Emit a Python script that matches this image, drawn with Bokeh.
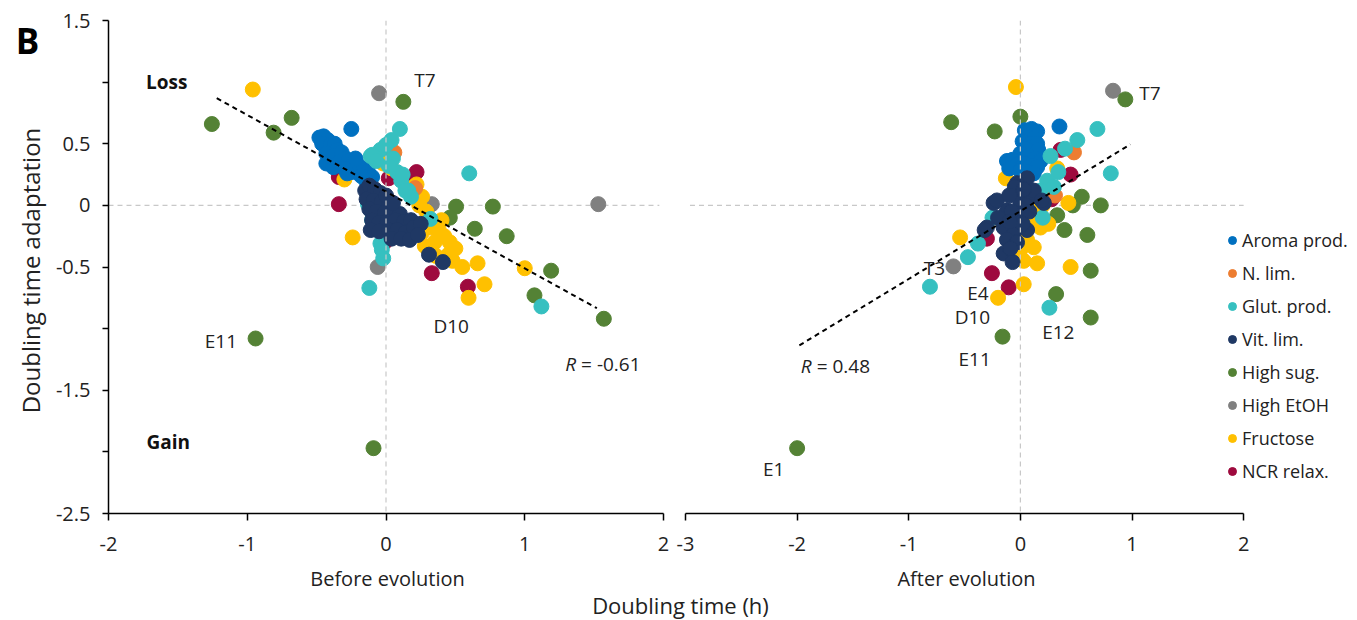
import math
from bokeh.plotting import figure
from bokeh.models import (ColumnDataSource, Span, Label, Legend, LegendItem,
                          FixedTicker, Range1d)
from bokeh.layouts import row, column
from bokeh.embed import file_html
from bokeh.resources import INLINE
from bokeh.core.properties import value

FONT = "Open Sans"

categories = ["Aroma prod.", "N. lim.", "Glut. prod.", "Vit. lim.",
              "High sug.", "High EtOH", "Fructose", "NCR relax."]
colors = ["#0070C0", "#ED7D31", "#36C0C0", "#1F3864",
          "#548235", "#808080", "#FFC000", "#9E0A3E"]
draw_order = ["NCR relax.", "High EtOH", "High sug.", "Fructose",
              "N. lim.", "Aroma prod.", "Glut. prod.", "Vit. lim."]

# ---------- Before evolution (x = doubling time before, y = adaptation) ----------
aroma_before = [(-0.25, 0.62), (-0.48, 0.55), (-0.45, 0.56), (-0.42, 0.53), (-0.46, 0.50),
                (-0.40, 0.49), (-0.37, 0.50), (-0.43, 0.42), (-0.35, 0.45), (-0.38, 0.40),
                (-0.32, 0.43), (-0.29, 0.38), (-0.34, 0.35), (-0.27, 0.36), (-0.24, 0.33),
                (-0.30, 0.30), (-0.21, 0.34), (-0.19, 0.29), (-0.25, 0.27), (-0.16, 0.30),
                (-0.13, 0.27), (-0.18, 0.24), (-0.10, 0.23), (-0.28, 0.26), (-0.22, 0.38),
                (-0.15, 0.21), (-0.43, 0.34), (-0.38, 0.31)]
nlim_before = [(0.06, 0.43), (0.21, 0.14)]
glut_before = [(0.10, 0.62), (0.60, 0.26), (-0.11, 0.40), (-0.04, 0.45), (0.04, 0.53),
               (0.00, 0.49), (-0.10, 0.41), (0.08, 0.27), (0.11, 0.20), (0.16, 0.12),
               (0.18, 0.07), (-0.13, 0.01), (-0.11, -0.04), (-0.10, -0.12), (-0.04, -0.31),
               (-0.02, -0.43), (-0.12, -0.67), (0.32, -0.11), (0.14, 0.12), (1.12, -0.82),
               (0.05, 0.38), (0.12, 0.25), (0.02, 0.32), (-0.07, 0.36), (-0.03, -0.36)]
vit_before = [(-0.15, 0.12), (-0.12, 0.16), (-0.08, 0.13), (-0.04, 0.10), (-0.14, 0.05),
              (-0.09, 0.04), (-0.03, 0.03), (0.02, 0.02), (-0.12, -0.03), (-0.07, -0.05),
              (-0.01, -0.06), (0.05, -0.05), (0.10, -0.07), (-0.10, -0.12), (-0.05, -0.14),
              (0.01, -0.13), (0.07, -0.12), (0.13, -0.13), (0.18, -0.12), (-0.11, -0.20),
              (-0.05, -0.21), (0.02, -0.20), (0.08, -0.20), (0.14, -0.22), (0.20, -0.18),
              (0.25, -0.15), (0.04, -0.27), (0.11, -0.27), (0.17, -0.28), (0.23, -0.24),
              (0.31, -0.40), (0.41, -0.46), (0.00, 0.08), (0.05, 0.02)]
sug_before = [(-1.255, 0.66), (-0.68, 0.71), (-0.81, 0.59), (0.125, 0.84), (0.77, -0.01),
              (0.505, -0.01), (0.46, -0.10), (0.64, -0.19), (0.87, -0.25), (1.19, -0.53),
              (1.07, -0.73), (1.57, -0.92), (-0.94, -1.08), (-0.09, -1.97)]
etoh_before = [(-0.05, 0.91), (1.53, 0.01), (0.33, 0.01), (-0.06, -0.50)]
fruc_before = [(-0.96, 0.94), (-0.30, 0.21), (-0.24, -0.26), (0.20, 0.15), (0.22, 0.17),
               (0.26, 0.07), (0.24, 0.00), (-0.02, 0.34), (1.00, -0.51), (0.66, -0.47),
               (0.71, -0.64), (0.55, -0.50), (0.595, -0.75), (0.42, -0.25), (0.38, -0.20),
               (0.46, -0.30), (0.35, -0.30), (0.50, -0.35), (0.45, -0.40), (0.28, -0.33),
               (0.33, -0.18), (0.40, -0.12), (0.26, -0.22), (0.48, -0.45), (0.36, -0.41),
               (0.29, -0.05), (0.04, 0.30)]
ncr_before = [(-0.34, 0.01), (-0.34, 0.23), (0.22, 0.27), (0.04, 0.42), (0.02, 0.22),
              (-0.01, -0.30), (0.33, -0.55), (0.59, -0.66), (0.15, 0.18)]

# ---------- After evolution ----------
aroma_after = [(0.35, 0.64), (0.04, 0.61), (0.10, 0.62), (0.15, 0.60), (0.06, 0.56),
               (0.12, 0.54), (0.02, 0.52), (0.09, 0.50), (0.15, 0.50), (0.04, 0.46),
               (0.10, 0.44), (0.16, 0.45), (0.00, 0.42), (0.07, 0.40), (0.13, 0.38),
               (0.18, 0.36), (-0.12, 0.36), (-0.07, 0.37), (-0.03, 0.33), (0.03, 0.34),
               (0.09, 0.32), (0.15, 0.31), (-0.10, 0.30), (0.00, 0.28), (0.06, 0.27),
               (0.12, 0.26)]
nlim_after = [(0.48, 0.43), (0.31, 0.08)]
glut_after = [(0.69, 0.62), (0.51, 0.53), (0.40, 0.46), (0.27, 0.40), (0.34, 0.27),
              (0.24, 0.20), (0.20, -0.10), (-0.25, -0.10), (-0.38, -0.31), (-0.47, -0.42),
              (-0.81, -0.66), (0.26, -0.83), (0.81, 0.26), (0.30, 0.15), (0.18, 0.12)]
vit_after = [(-0.24, 0.02), (-0.03, 0.10), (0.09, 0.07), (0.21, 0.02), (-0.12, -0.04),
             (0.00, -0.10), (-0.30, -0.18), (-0.15, -0.18), (-0.06, -0.23), (0.06, -0.20),
             (-0.12, -0.28), (-0.15, -0.39), (-0.07, -0.46), (0.00, 0.02), (0.06, 0.22),
             (-0.03, 0.18), (-0.21, 0.04), (0.12, 0.12), (0.19, 0.04), (-0.05, 0.15),
             (0.03, 0.13), (-0.10, 0.08), (0.05, 0.00), (-0.08, -0.05), (0.08, -0.05),
             (-0.20, -0.10), (0.02, -0.15), (-0.10, -0.13), (-0.32, -0.20), (-0.03, -0.30),
             (-0.09, -0.35)]
sug_after = [(-0.62, 0.675), (0.00, 0.72), (-0.23, 0.60), (0.94, 0.86), (0.55, 0.07),
             (0.72, 0.00), (0.47, 0.00), (0.33, -0.08), (0.395, -0.20), (0.60, -0.24),
             (0.63, -0.53), (0.32, -0.72), (0.63, -0.91), (-0.16, -1.065), (-2.00, -1.97)]
etoh_after = [(0.83, 0.93), (-0.60, -0.495)]
fruc_after = [(-0.04, 0.96), (-0.13, 0.22), (0.43, 0.02), (0.45, -0.50), (0.15, -0.47),
              (0.03, -0.45), (0.03, -0.64), (-0.20, -0.75), (-0.54, -0.26), (0.06, -0.28),
              (0.12, -0.34), (0.03, -0.18), (0.00, -0.36), (0.10, -0.12), (0.18, -0.18),
              (0.25, 0.10), (0.33, 0.30), (0.25, -0.15), (0.20, 0.00), (0.15, -0.05)]
ncr_after = [(0.36, 0.45), (0.45, 0.25), (-0.105, -0.665), (-0.255, -0.55), (-0.30, -0.27),
             (0.28, 0.05)]

before_sets = dict(zip(categories, [aroma_before, nlim_before, glut_before, vit_before,
                                    sug_before, etoh_before, fruc_before, ncr_before]))
after_sets = dict(zip(categories, [aroma_after, nlim_after, glut_after, vit_after,
                                   sug_after, etoh_after, fruc_after, ncr_after]))

# trend lines
trend_before_slope, trend_before_intercept = -0.622, 0.111
trend_before_x = [-1.22, 1.52]
trend_after_slope, trend_after_intercept = 0.55, -0.047
trend_after_x = [-1.98, 0.985]
r_before_text = "= -0.61"
r_after_text = "= 0.48"

# ticks
y_ticks = [-2.5, -2.0, -1.5, -1.0, -0.5, 0.0, 0.5, 1.0, 1.5]
y_tick_labels = ["-2.5", "", "-1.5", "", "-0.5", "0", "0.5", "", "1.5"]
before_x_ticks = [-2, -1, 0, 1, 2]
after_x_ticks = [-3, -2, -1, 0, 1, 2]

# point annotations
before_names = ["T7", "E11", "D10"]
before_name_x = [0.28, -1.19, 0.47]
before_name_y = [1.02, -1.10, -0.975]
zone_names = ["Loss", "Gain"]
zone_x = [-1.58, -1.57]
zone_y = [1.00, -1.92]
after_names = ["T7", "T3", "E4", "D10", "E12", "E11", "E1"]
after_name_x = [1.16, -0.77, -0.38, -0.43, 0.34, -0.41, -2.21]
after_name_y = [0.91, -0.51, -0.71, -0.905, -1.03, -1.25, -2.14]

TICK_FS = "20px"
ANN_FS = "19px"
TXT = "#222222"
ROW_H = 562
FRAME_TOP, FRAME_BOTTOM = 20, 513


def style_xaxis(ax, ticks, bounds):
    ax.bounds = bounds
    ax.ticker = FixedTicker(ticks=ticks)
    ax.major_label_overrides = {t: str(t) for t in ticks}
    ax.major_label_text_font = FONT
    ax.major_label_text_font_size = TICK_FS
    ax.major_label_text_color = TXT
    ax.major_label_standoff = 16
    ax.major_tick_out = 7
    ax.major_tick_in = 0
    ax.minor_tick_out = 0
    ax.minor_tick_in = 0
    ax.axis_line_width = 1.5
    ax.major_tick_line_width = 1.5
    ax.axis_line_color = "black"
    ax.major_tick_line_color = "black"


def draw_points(p, sets):
    rends = {}
    for cat in draw_order:
        pts = sets[cat]
        col = colors[categories.index(cat)]
        src = ColumnDataSource(dict(x=[q[0] for q in pts], y=[q[1] for q in pts]))
        rends[cat] = p.scatter("x", "y", source=src, size=15, marker="circle",
                               fill_color=col, line_color=col)
    return rends


def base_fig(width, x_range, left_border, right_border, with_y):
    p = figure(width=width, height=ROW_H, x_range=x_range, y_range=Range1d(-2.5, 1.5),
               output_backend="svg", toolbar_location=None,
               y_axis_location="left" if with_y else None,
               min_border_left=left_border, min_border_right=right_border,
               min_border_top=FRAME_TOP, min_border_bottom=ROW_H - FRAME_BOTTOM)
    p.outline_line_color = None
    p.xgrid.visible = False
    p.ygrid.visible = False
    p.background_fill_color = "white"
    p.border_fill_color = "white"
    return p


def blank_fig(width, height, top=0, bottom=0):
    p = figure(width=width, height=height, output_backend="svg", toolbar_location=None,
               x_axis_location=None, y_axis_location=None, min_border_left=0,
               min_border_right=0, min_border_top=top, min_border_bottom=bottom)
    p.outline_line_color = None
    p.background_fill_color = "white"
    p.border_fill_color = "white"
    return p


# ---------------- strip with panel letter and y title ----------------
# its frame lines up with the panels' frames (top 20, bottom 513)
pB = blank_fig(50, ROW_H, FRAME_TOP, ROW_H - FRAME_BOTTOM)
pB.add_layout(Label(x=27, y=FRAME_BOTTOM - 40, x_units="screen", y_units="screen", text="B",
                    text_font=FONT, text_font_size="35px", text_font_style="bold",
                    text_align="center", text_baseline="middle", text_color="black"))
pB.add_layout(Label(x=30, y=FRAME_BOTTOM - 270, x_units="screen", y_units="screen",
                    text="Doubling time adaptation", angle=math.pi / 2,
                    text_font=FONT, text_font_size="24px", text_align="center",
                    text_baseline="middle", text_color=TXT))

# ---------------- left panel ----------------
p1 = base_fig(624, Range1d(-2, 2), 58, 11, True)
style_xaxis(p1.xaxis[0], before_x_ticks, (-2, 2))
ya = p1.yaxis[0]
ya.ticker = FixedTicker(ticks=y_ticks)
ya.major_label_overrides = dict(zip(y_ticks, y_tick_labels))
ya.major_label_text_font = FONT
ya.major_label_text_font_size = TICK_FS
ya.major_label_text_color = TXT
ya.major_label_standoff = 12
ya.major_tick_out = 6
ya.major_tick_in = 0
ya.minor_tick_out = 0
ya.minor_tick_in = 0
ya.axis_line_width = 1.5
ya.major_tick_line_width = 1.5

p1.add_layout(Span(location=0, dimension="height", line_color="#c8c8c8",
                   line_dash="5 4", line_width=1.2))
p1.segment(x0=[-2.0], y0=[0], x1=[1.97], y1=[0], line_color="#c8c8c8",
           line_dash="5 4", line_width=1.2)
draw_points(p1, before_sets)
p1.line(trend_before_x,
        [trend_before_slope * v + trend_before_intercept for v in trend_before_x],
        line_color="black", line_dash="5 4", line_width=2)

p1.text(x=before_name_x, y=before_name_y, text=before_names, text_font=value(FONT),
        text_font_size=value(ANN_FS), text_align="center", text_baseline="middle",
        text_color=TXT)
p1.text(x=zone_x, y=zone_y, text=zone_names, text_font=value(FONT),
        text_font_size=value(ANN_FS), text_font_style="bold", text_align="center",
        text_baseline="middle", text_color="#111111")
p1.text(x=[1.37], y=[-1.285], text=["R"], text_font=value(FONT), text_font_size=value(ANN_FS),
        text_font_style="italic", text_align="right", text_baseline="middle", text_color=TXT)
p1.text(x=[1.37], y=[-1.285], text=[r_before_text], x_offset=5, text_font=value(FONT),
        text_font_size=value(ANN_FS), text_align="left", text_baseline="middle",
        text_color=TXT)

# ---------------- right panel ----------------
p2 = base_fig(683, Range1d(-3, 3.02), 11, 0, False)
style_xaxis(p2.xaxis[0], after_x_ticks, (-3, 2))
p2.add_layout(Span(location=0, dimension="height", line_color="#c8c8c8",
                   line_dash="5 4", line_width=1.2))
p2.segment(x0=[-2.96], y0=[0], x1=[2.0], y1=[0], line_color="#c8c8c8",
           line_dash="5 4", line_width=1.2)
rends = draw_points(p2, after_sets)
p2.line(trend_after_x,
        [trend_after_slope * v + trend_after_intercept for v in trend_after_x],
        line_color="black", line_dash="5 4", line_width=2)
p2.text(x=after_name_x, y=after_name_y, text=after_names, text_font=value(FONT),
        text_font_size=value(ANN_FS), text_align="center", text_baseline="middle",
        text_color=TXT)
p2.text(x=[-1.87], y=[-1.30], text=["R"], text_font=value(FONT), text_font_size=value(ANN_FS),
        text_font_style="italic", text_align="right", text_baseline="middle", text_color=TXT)
p2.text(x=[-1.87], y=[-1.30], text=[r_after_text], x_offset=5, text_font=value(FONT),
        text_font_size=value(ANN_FS), text_align="left", text_baseline="middle",
        text_color=TXT)

legend = Legend(items=[LegendItem(label=c, renderers=[rends[c]]) for c in categories],
                location=(537, 30), glyph_width=20, glyph_height=20, label_height=20,
                label_standoff=0, spacing=9, padding=0, margin=0,
                border_line_color=None, background_fill_alpha=0,
                label_text_font=FONT, label_text_font_size="18px",
                label_text_color=TXT)
p2.add_layout(legend, "center")

# ---------------- axis titles strip ----------------
BOT_H = 620 - ROW_H
p3 = blank_fig(1357, BOT_H)
p3.add_layout(Label(x=387, y=620 - 578, x_units="screen", y_units="screen",
                    text="Before evolution", text_font=FONT, text_font_size="20px",
                    text_align="center", text_baseline="middle", text_color=TXT))
p3.add_layout(Label(x=966, y=620 - 578, x_units="screen", y_units="screen",
                    text="After evolution", text_font=FONT, text_font_size="20px",
                    text_align="center", text_baseline="middle", text_color=TXT))
p3.add_layout(Label(x=680, y=620 - 604, x_units="screen", y_units="screen",
                    text="Doubling time (h)", text_font=FONT, text_font_size="22px",
                    text_align="center", text_baseline="middle", text_color=TXT))

layout = column(row(pB, p1, p2), p3)
open("out.html", "w").write(file_html(layout, INLINE, title="Doubling time adaptation"))
